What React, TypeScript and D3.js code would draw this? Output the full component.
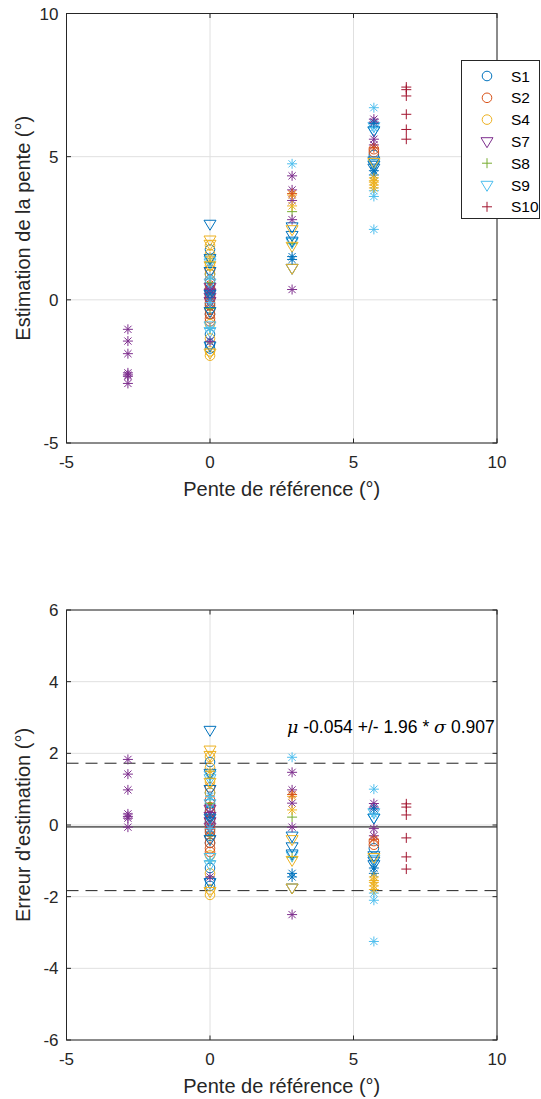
import React from 'react';
import * as d3 from 'd3';

// Reference slopes (degrees)
const REFS = [-2.86, 0, 2.86, 5.71, 6.84];

// Estimation errors (estimate - reference), grouped by reference index
const S1_ERR = [[], [1.76, 0.9, 0.6, 0.4, 0.25, 0.1, -0.14, -0.3, -0.5, -1.2, -1.55, -1.7], [], [-0.65], []];
const S2_ERR = [[], [1.05, 0.7, 0.5, 0.35, 0.15, 0.0, -0.1, -0.2, -0.35, -0.5, -0.65, -0.75], [], [-0.45, -0.55], []];
const S4_ERR = [[], [1.9, 1.6, 1.2, 0.9, -0.85, -1.35, -1.8, -1.95], [], [], []];
const S7_ERR = [[], [0.45, 0.25, 0.1, -0.05], [], [], []];
const S8_ERR = [[], [1.3, 0.6, -0.3, -1.0], [0.22, -0.9], [], []];
const S9_ERR = [[], [1.4, 1.3, 0.6, -0.9, -1.1], [-0.85], [0.35, 0.2, -0.95], []];
const S10_ERR = [[], [], [], [], [0.59, 0.5, 0.28, -0.36, -0.89, -1.23]];
const S11_ERR = [[], [2.65, 1.45, 1.0, 0.2, -0.4, -1.6], [-0.3, -0.6, -0.8, -1.75], [0.2, -0.85, -1.0, -1.1], []];
const S12_ERR = [[], [2.1, 1.95, 1.2, -1.85], [-0.4, -0.98, -1.75], [-0.9], []];
const S13_ERR = [[1.83, 1.42, 0.98, 0.31, 0.24, 0.19, -0.06], [0.35, -1.45], [1.47, 0.98, 0.61, -0.06, -2.5], [0.6, 0.5, -0.1, -0.3], []];
const S14_ERR = [[], [0.8, -0.1, -1.0], [1.89], [1.0, 0.3, -1.9, -2.1, -3.25], []];
const S15_ERR = [[], [0.2], [-1.35, -1.45], [0.45, -1.2, -1.35], []];
const S16_ERR = [[], [1.5], [0.8, 0.42], [-1.45, -1.55, -1.6, -1.7, -1.8], []];
const S17_ERR = [[], [], [0.85], [-0.4], []];

const SERIES_NAMES = ['S1', 'S2', 'S4', 'S7', 'S8', 'S9', 'S10', 'S11', 'S12', 'S13', 'S14', 'S15', 'S16', 'S17'];
const SERIES_ERRS = [S1_ERR, S2_ERR, S4_ERR, S7_ERR, S8_ERR, S9_ERR, S10_ERR, S11_ERR, S12_ERR, S13_ERR, S14_ERR, S15_ERR, S16_ERR, S17_ERR];
const SERIES_COLORS = ['#0072BD', '#D95319', '#EDB120', '#7E2F8E', '#77AC30', '#4DBEEE', '#A2142F', '#0072BD', '#EDB120', '#7E2F8E', '#4DBEEE', '#0072BD', '#EDB120', '#D95319'];
const SERIES_MARKERS = ['o', 'o', 'o', 'v', '+', 'v', '+', 'v', 'v', '*', '*', '*', '*', '*'];
const LEGEND_COUNT = 7;

const MEAN = -0.054;
const STD = 0.907;

const X_TICKS = [-5, 0, 5, 10];
const Y1_TICKS = [-5, 0, 5, 10];
const Y2_TICKS = [-6, -4, -2, 0, 2, 4, 6];

const FONT = '"Liberation Sans", Arial, Helvetica, sans-serif';
const AXC = '#262626';
const GRID = '#e0e0e0';
const TICK_FS = 17;
const LABEL_FS = 20;

function Marker({ m, x, y, c }: { m: string; x: number; y: number; c: string }) {
  if (m === 'o') return <circle cx={x} cy={y} r={4.8} fill="none" stroke={c} strokeWidth={1} />;
  if (m === 'v')
    return <path d={`M${x - 6},${y - 3.7}L${x + 6},${y - 3.7}L${x},${y + 6.3}Z`} fill="none" stroke={c} strokeWidth={1} />;
  if (m === '+') return <path d={`M${x - 5},${y}H${x + 5}M${x},${y - 5}V${y + 5}`} stroke={c} strokeWidth={1} fill="none" />;
  const d = 3.6;
  return (
    <path
      d={`M${x - 5},${y}H${x + 5}M${x},${y - 5}V${y + 5}M${x - d},${y - d}L${x + d},${y + d}M${x - d},${y + d}L${x + d},${y - d}`}
      stroke={c}
      strokeWidth={1}
      fill="none"
    />
  );
}

const L = 66.5;
const R = 497;

function Axes({ top, bottom, yDomain, yTicks, ylabel, xlabel, mode }: any) {
  const x = d3.scaleLinear().domain([-5, 10]).range([L, R]);
  const y = d3.scaleLinear().domain(yDomain).range([bottom, top]);
  const points: any[] = [];
  SERIES_ERRS.forEach((errs, si) => {
    errs.forEach((arr, ri) => {
      arr.forEach((e, k) => {
        const ref = REFS[ri];
        const val = mode === 'est' ? ref + e : e;
        points.push(
          <Marker key={`${si}-${ri}-${k}`} m={SERIES_MARKERS[si]} x={x(ref)} y={y(val)} c={SERIES_COLORS[si]} />
        );
      });
    });
  });
  const cy = (top + bottom) / 2;
  return (
    <g>
      {X_TICKS.map((t) => (
        <line key={'gx' + t} x1={x(t)} x2={x(t)} y1={top} y2={bottom} stroke={GRID} strokeWidth={1} />
      ))}
      {yTicks.map((t: number) => (
        <line key={'gy' + t} x1={L} x2={R} y1={y(t)} y2={y(t)} stroke={GRID} strokeWidth={1} />
      ))}
      {mode === 'err' && (
        <g>
          <line x1={L} x2={R} y1={y(MEAN)} y2={y(MEAN)} stroke="#6b6b6b" strokeWidth={1.8} />
          <line x1={L} x2={R} y1={y(MEAN + 1.96 * STD)} y2={y(MEAN + 1.96 * STD)} stroke="#222" strokeWidth={1} strokeDasharray="12,7" />
          <line x1={L} x2={R} y1={y(MEAN - 1.96 * STD)} y2={y(MEAN - 1.96 * STD)} stroke="#222" strokeWidth={1} strokeDasharray="12,7" />
        </g>
      )}
      {points}
      {mode === 'err' && (
        <text x={287} y={y(2.56)} fontFamily={FONT} fontSize={17.5} fill="#000">
          <tspan fontStyle="italic" fontFamily="'DejaVu Serif', serif">μ</tspan>
          <tspan> -0.054 +/- 1.96 * </tspan>
          <tspan fontStyle="italic" fontFamily="'DejaVu Serif', serif">σ</tspan>
          <tspan> 0.907</tspan>
        </text>
      )}
      <rect x={L} y={top} width={R - L} height={bottom - top} fill="none" stroke={AXC} strokeWidth={1} />
      {X_TICKS.map((t) => (
        <g key={'tx' + t}>
          <line x1={x(t)} x2={x(t)} y1={bottom} y2={bottom - 4.5} stroke={AXC} />
          <line x1={x(t)} x2={x(t)} y1={top} y2={top + 4.5} stroke={AXC} />
          <text x={x(t)} y={bottom + 25} textAnchor="middle" fontFamily={FONT} fontSize={TICK_FS} fill={AXC}>
            {t}
          </text>
        </g>
      ))}
      {yTicks.map((t: number) => (
        <g key={'ty' + t}>
          <line x1={L} x2={L + 4.5} y1={y(t)} y2={y(t)} stroke={AXC} />
          <line x1={R} x2={R - 4.5} y1={y(t)} y2={y(t)} stroke={AXC} />
          <text x={L - 8} y={y(t) + 6} textAnchor="end" fontFamily={FONT} fontSize={TICK_FS} fill={AXC}>
            {t}
          </text>
        </g>
      ))}
      <text x={(L + R) / 2} y={bottom + 53} textAnchor="middle" fontFamily={FONT} fontSize={LABEL_FS} fill={AXC}>
        {xlabel}
      </text>
      <text
        transform={`translate(30,${cy}) rotate(-90)`}
        textAnchor="middle"
        fontFamily={FONT}
        fontSize={LABEL_FS}
        fill={AXC}
      >
        {ylabel}
      </text>
    </g>
  );
}

function Legend() {
  const x0 = 461.5;
  const y0 = 60.5;
  const rowH = 21.8;
  return (
    <g>
      <rect x={x0} y={y0} width={78} height={158} fill="#fff" stroke={AXC} strokeWidth={1} />
      {SERIES_NAMES.slice(0, LEGEND_COUNT).map((n, i) => {
        const yy = y0 + 15.5 + i * rowH;
        return (
          <g key={n}>
            <Marker m={SERIES_MARKERS[i]} x={487} y={yy} c={SERIES_COLORS[i]} />
            <text x={511} y={yy + 5.5} fontFamily={FONT} fontSize={15.5} fill="#000">
              {n}
            </text>
          </g>
        );
      })}
    </g>
  );
}

export default function App() {
  return (
    <svg
      width={541}
      height={1099}
      viewBox="0 0 541 1099"
      style={{ position: 'absolute', left: 0, top: 0, background: '#fff' }}
    >
      <rect x={0} y={0} width={541} height={1099} fill="#fff" />
      <Axes
        top={13.5}
        bottom={443}
        yDomain={[-5, 10]}
        yTicks={Y1_TICKS}
        ylabel="Estimation de la pente (°)"
        xlabel="Pente de référence (°)"
        mode="est"
      />
      <Legend />
      <Axes
        top={610}
        bottom={1040}
        yDomain={[-6, 6]}
        yTicks={Y2_TICKS}
        ylabel="Erreur d'estimation (°)"
        xlabel="Pente de référence (°)"
        mode="err"
      />
    </svg>
  );
}
